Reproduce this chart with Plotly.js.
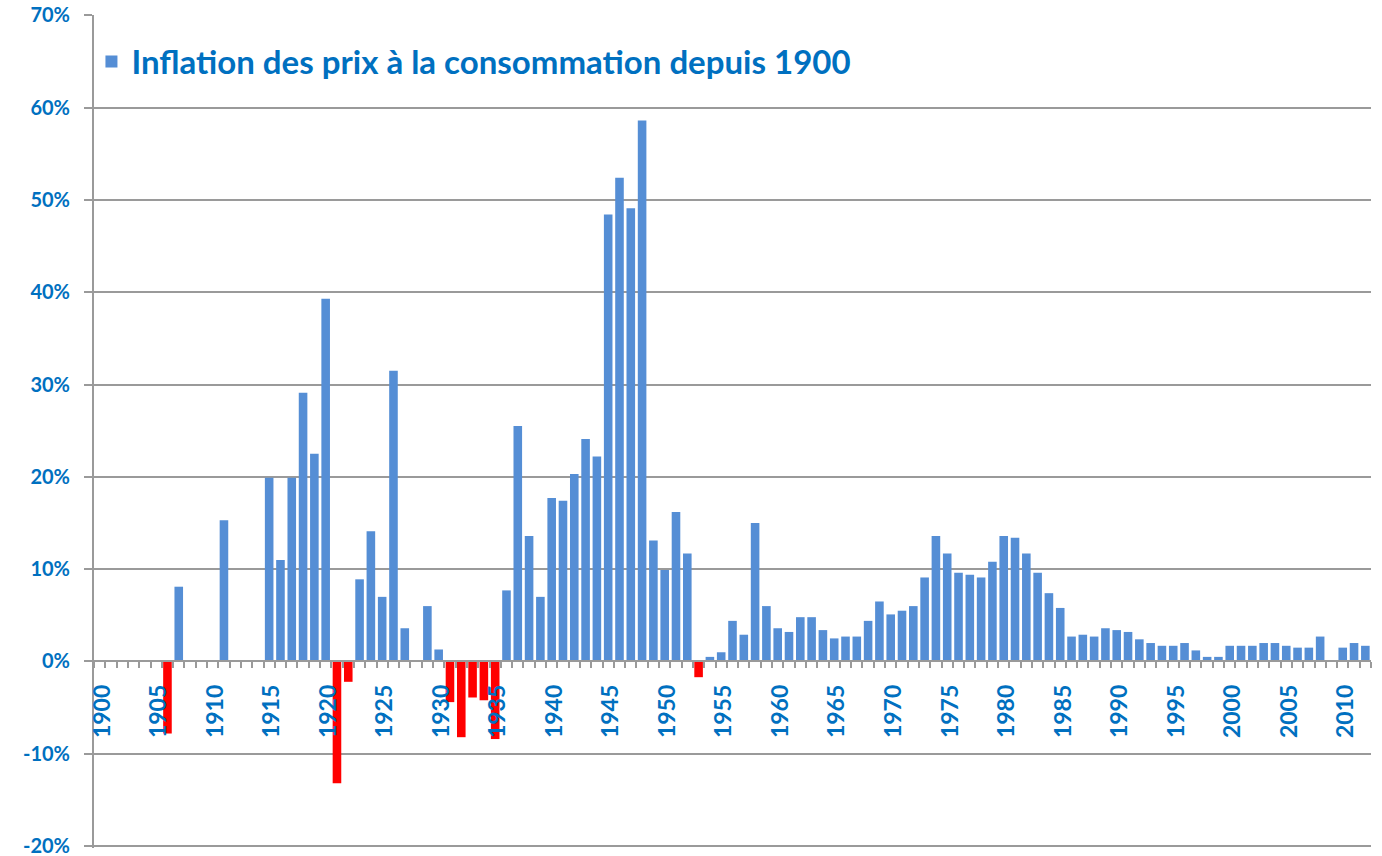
<!DOCTYPE html>
<html>
<head>
<meta charset="utf-8">
<script src="https://cdn.plot.ly/plotly-3.0.1.min.js"></script>
<style>html,body{margin:0;padding:0;background:#fff;}#chart{width:1382px;height:856px;}</style>
</head>
<body>
<div id="chart"></div>
<script>
const years = [
  1900,1901,1902,1903,1904,1905,1906,1907,1908,1909,
  1910,1911,1912,1913,1914,1915,1916,1917,1918,1919,
  1920,1921,1922,1923,1924,1925,1926,1927,1928,1929,
  1930,1931,1932,1933,1934,1935,1936,1937,1938,1939,
  1940,1941,1942,1943,1944,1945,1946,1947,1948,1949,
  1950,1951,1952,1953,1954,1955,1956,1957,1958,1959,
  1960,1961,1962,1963,1964,1965,1966,1967,1968,1969,
  1970,1971,1972,1973,1974,1975,1976,1977,1978,1979,
  1980,1981,1982,1983,1984,1985,1986,1987,1988,1989,
  1990,1991,1992,1993,1994,1995,1996,1997,1998,1999,
  2000,2001,2002,2003,2004,2005,2006,2007,2008,2009,
  2010,2011,2012
];
const inflation = [
  0,0,0,0,0,0,-7.8,8.1,0,0,
  0,15.3,0,0,0,19.9,11.0,19.9,29.1,22.5,
  39.3,-13.2,-2.2,8.9,14.1,7.0,31.5,3.6,0,6.0,
  1.3,-4.4,-8.2,-3.9,-4.2,-8.4,7.7,25.5,13.6,7.0,
  17.7,17.4,20.3,24.1,22.2,48.4,52.4,49.1,58.6,13.1,
  9.9,16.2,11.7,-1.7,0.5,1.0,4.4,2.9,15.0,6.0,
  3.6,3.2,4.8,4.8,3.4,2.5,2.7,2.7,4.4,6.5,
  5.1,5.5,6.0,9.1,13.6,11.7,9.6,9.4,9.1,10.8,
  13.6,13.4,11.7,9.6,7.4,5.8,2.7,2.9,2.7,3.6,
  3.4,3.2,2.4,2.0,1.7,1.7,2.0,1.2,0.5,0.5,
  1.7,1.7,1.7,2.0,2.0,1.7,1.5,1.5,2.7,0.1,
  1.5,2.0,1.7
];
const labelYears = [1900,1905,1910,1915,1920,1925,1930,1935,1940,1945,1950,1955,1960,1965,1970,1975,1980,1985,1990,1995,2000,2005,2010];
const yTickVals = [-20,-10,0,10,20,30,40,50,60,70];
const seriesName = "Inflation des prix à la consommation depuis 1900";

const BLUE = "#558ED5", RED = "#FF0000", TXT = "#0070C0", GRID = "#9a9a9a";
const colors = inflation.map(v => v < 0 ? RED : BLUE);

const yRange = [-20.2, 70.02];

const trace = {
  type: "bar",
  x: years,
  y: inflation,
  name: seriesName,
  width: 0.76,
  marker: {color: colors, line: {width: 0}},
  showlegend: true,
  hoverinfo: "x+y"
};

const layout = {
  width: 1382, height: 856,
  margin: {l: 94, r: 11, t: 15, b: 8},
  paper_bgcolor: "#fff", plot_bgcolor: "#fff",
  font: {family: "Lato, 'Open Sans', sans-serif", color: TXT},
  showlegend: true,
  legend: {
    x: -0.002, y: 0.944, xanchor: "left", yanchor: "middle",
    bgcolor: "rgba(0,0,0,0)",
    font: {family: "Lato, sans-serif", size: 33, color: TXT, weight: "bold"},
    itemwidth: 30
  },
  xaxis: {
    type: "linear",
    range: [years[0] - 0.5, years[years.length - 1] + 0.5],
    anchor: "free",
    position: (0 - yRange[0]) / (yRange[1] - yRange[0]),
    showline: true, linecolor: GRID, linewidth: 2,
    showgrid: false, zeroline: false,
    tickmode: "array",
    tickvals: labelYears.map(y => y + 0.25),
    ticktext: labelYears.map(String),
    ticks: "outside", ticklen: 0,
    ticklabelstandoff: 13,
    tickangle: -90,
    tickfont: {family: "Lato, sans-serif", size: 23, color: TXT, weight: "bold"},
    minor: {tick0: years[0] - 0.5, dtick: 1, ticks: "outside", ticklen: 6, tickwidth: 2, tickcolor: GRID, showgrid: false},
    fixedrange: true
  },
  yaxis: {
    range: yRange,
    tickmode: "array",
    tickvals: yTickVals,
    ticktext: yTickVals.map(v => v + "%"),
    showline: true, linecolor: GRID, linewidth: 2,
    showgrid: true, gridcolor: GRID, gridwidth: 2,
    zeroline: false,
    ticks: "outside", ticklen: 8, tickwidth: 2, tickcolor: GRID,
    ticklabelstandoff: 10,
    ticklabeloverflow: "allow",
    tickfont: {family: "Lato, sans-serif", size: 20, color: TXT, weight: "bold"},
    fixedrange: true
  },
  bargap: 0.25
};

Plotly.newPlot("chart", [trace], layout, {staticPlot: true, displayModeBar: false});
</script>
</body>
</html>
